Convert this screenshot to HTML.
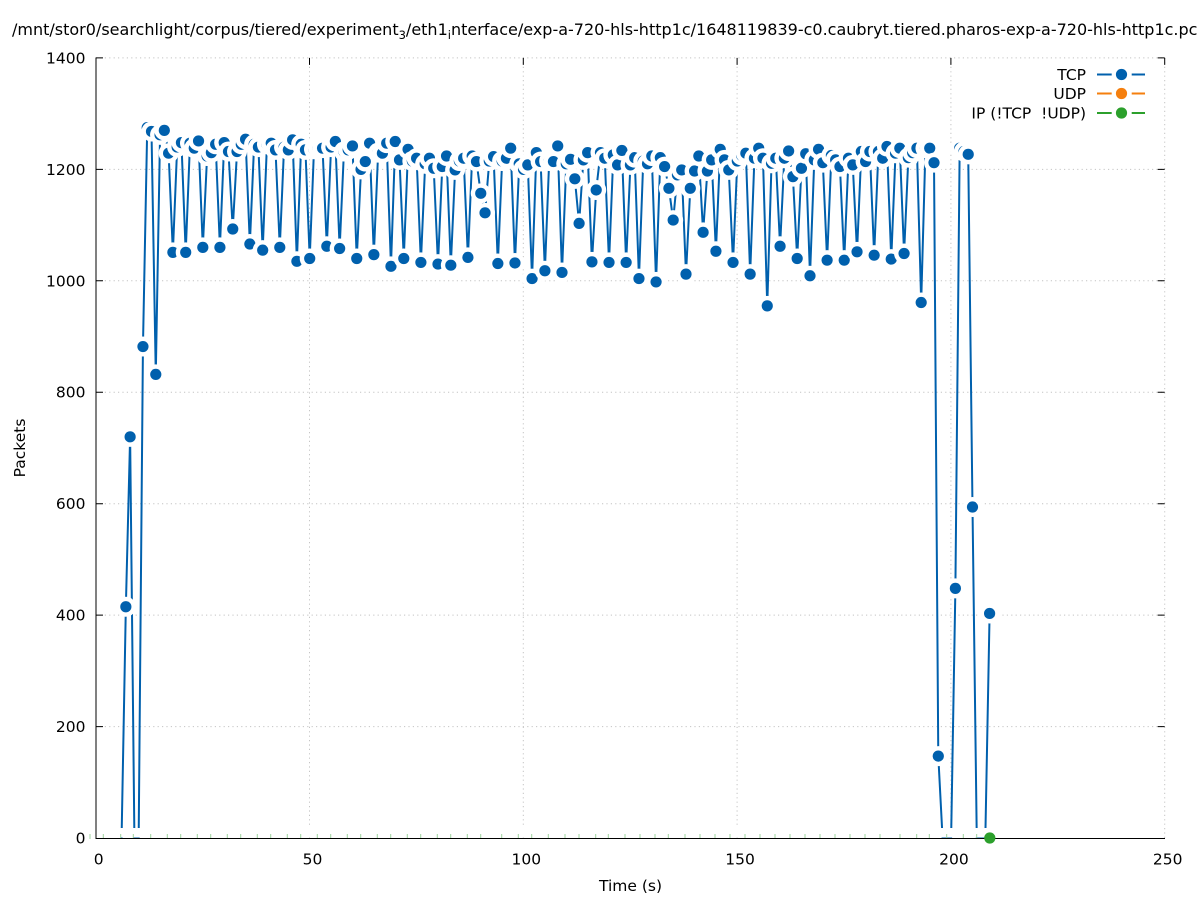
<!DOCTYPE html>
<html>
<head>
<meta charset="utf-8">
<style>
  html, body { margin: 0; padding: 0; background: #fff; }
  svg { display: block; }
  text { font-family: "DejaVu Sans", "Liberation Sans", sans-serif; fill: #000; }
</style>
</head>
<body>
<svg width="1197" height="900" viewBox="0 0 1197 900" xmlns="http://www.w3.org/2000/svg">
  <defs>
    <g id="pt">
      <ellipse rx="2.3386" ry="17.947" fill="#fff"/>
      <ellipse rx="1.3096" ry="10.05" fill="#0060ad"/>
    </g>
  </defs>
  <rect x="0" y="0" width="1197" height="900" fill="#fff"/>

  <!-- grid -->
  <g stroke="#c4c4c4" stroke-width="1" stroke-dasharray="1.2,3.2" fill="none">
    <path d="M309.5 838V58 M523.3 838V58 M737.1 838V58 M950.9 838V58 M1164.7 838V58"/>
    <path d="M96 726.6H1164.7 M96 615.1H1164.7 M96 503.7H1164.7 M96 392.2H1164.7 M96 280.8H1164.7 M96 169.4H1164.7 M96 57.9H1164.7"/>
  </g>

  <!-- TCP series -->
  <g transform="translate(100.19 838) scale(4.276 -0.5572)">
    <polyline fill="none" stroke="#0060ad" stroke-width="2" stroke-linejoin="round" vector-effect="non-scaling-stroke"
      points="5,0 6,415 7,720 8,0 9,0 10,882 11,1275 12,1268 13,832 14,1262 15,1270 16,1229 17,1051 18,1240 19,1248 20,1051 21,1247 22,1238 23,1251 24,1060 25,1224 26,1230 27,1245 28,1060 29,1248 30,1232 31,1093 32,1232 33,1245 34,1254 35,1066 36,1245 37,1240 38,1055 39,1245 40,1247 41,1235 42,1060 43,1240 44,1235 45,1253 46,1035 47,1245 48,1235 49,1040 50,1236 51,1238 52,1238 53,1062 54,1240 55,1250 56,1058 57,1232 58,1235 59,1242 60,1040 61,1200 62,1214 63,1247 64,1047 65,1230 66,1229 67,1247 68,1026 69,1250 70,1217 71,1040 72,1236 73,1215 74,1220 75,1033 76,1210 77,1220 78,1202 79,1030 80,1205 81,1224 82,1028 83,1199 84,1215 85,1220 86,1042 87,1224 88,1214 89,1157 90,1122 91,1215 92,1223 93,1031 94,1215 95,1220 96,1238 97,1032 98,1210 99,1200 100,1208 101,1004 102,1230 103,1214 104,1018 105,1215 106,1214 107,1242 108,1015 109,1210 110,1218 111,1183 112,1103 113,1217 114,1230 115,1034 116,1163 117,1230 118,1220 119,1033 120,1226 121,1208 122,1234 123,1033 124,1208 125,1221 126,1004 127,1215 128,1210 129,1224 130,998 131,1221 132,1205 133,1166 134,1109 135,1190 136,1199 137,1012 138,1166 139,1197 140,1224 141,1087 142,1197 143,1217 144,1053 145,1236 146,1217 147,1199 148,1033 149,1215 150,1225 151,1229 152,1012 153,1220 154,1238 155,1220 156,955 157,1211 158,1220 159,1062 160,1220 161,1233 162,1187 163,1040 164,1202 165,1228 166,1009 167,1217 168,1236 169,1212 170,1037 171,1225 172,1217 173,1205 174,1037 175,1220 176,1208 177,1052 178,1232 179,1214 180,1232 181,1046 182,1232 183,1220 184,1241 185,1039 186,1229 187,1238 188,1049 189,1221 190,1230 191,1238 192,961 193,1238 194,1238 195,1212 196,147 197,0 198,0 199,0 200,448 201,1238 202,1232 203,1227 204,594 205,0 206,0 207,0 208,403"/>
    <use href="#pt" x="6" y="415"/><use href="#pt" x="7" y="720"/>
    <use href="#pt" x="10" y="882"/><use href="#pt" x="11" y="1275"/><use href="#pt" x="12" y="1268"/><use href="#pt" x="13" y="832"/><use href="#pt" x="14" y="1262"/>
    <use href="#pt" x="15" y="1270"/><use href="#pt" x="16" y="1229"/><use href="#pt" x="17" y="1051"/><use href="#pt" x="18" y="1240"/><use href="#pt" x="19" y="1248"/>
    <use href="#pt" x="20" y="1051"/><use href="#pt" x="21" y="1247"/><use href="#pt" x="22" y="1238"/><use href="#pt" x="23" y="1251"/><use href="#pt" x="24" y="1060"/>
    <use href="#pt" x="25" y="1224"/><use href="#pt" x="26" y="1230"/><use href="#pt" x="27" y="1245"/><use href="#pt" x="28" y="1060"/><use href="#pt" x="29" y="1248"/>
    <use href="#pt" x="30" y="1232"/><use href="#pt" x="31" y="1093"/><use href="#pt" x="32" y="1232"/><use href="#pt" x="33" y="1245"/><use href="#pt" x="34" y="1254"/>
    <use href="#pt" x="35" y="1066"/><use href="#pt" x="36" y="1245"/><use href="#pt" x="37" y="1240"/><use href="#pt" x="38" y="1055"/><use href="#pt" x="39" y="1245"/>
    <use href="#pt" x="40" y="1247"/><use href="#pt" x="41" y="1235"/><use href="#pt" x="42" y="1060"/><use href="#pt" x="43" y="1240"/><use href="#pt" x="44" y="1235"/>
    <use href="#pt" x="45" y="1253"/><use href="#pt" x="46" y="1035"/><use href="#pt" x="47" y="1245"/><use href="#pt" x="48" y="1235"/><use href="#pt" x="49" y="1040"/>
    <use href="#pt" x="50" y="1236"/><use href="#pt" x="51" y="1238"/><use href="#pt" x="52" y="1238"/><use href="#pt" x="53" y="1062"/><use href="#pt" x="54" y="1240"/>
    <use href="#pt" x="55" y="1250"/><use href="#pt" x="56" y="1058"/><use href="#pt" x="57" y="1232"/><use href="#pt" x="58" y="1235"/><use href="#pt" x="59" y="1242"/>
    <use href="#pt" x="60" y="1040"/><use href="#pt" x="61" y="1200"/><use href="#pt" x="62" y="1214"/><use href="#pt" x="63" y="1247"/><use href="#pt" x="64" y="1047"/>
    <use href="#pt" x="65" y="1230"/><use href="#pt" x="66" y="1229"/><use href="#pt" x="67" y="1247"/><use href="#pt" x="68" y="1026"/><use href="#pt" x="69" y="1250"/>
    <use href="#pt" x="70" y="1217"/><use href="#pt" x="71" y="1040"/><use href="#pt" x="72" y="1236"/><use href="#pt" x="73" y="1215"/><use href="#pt" x="74" y="1220"/>
    <use href="#pt" x="75" y="1033"/><use href="#pt" x="76" y="1210"/><use href="#pt" x="77" y="1220"/><use href="#pt" x="78" y="1202"/><use href="#pt" x="79" y="1030"/>
    <use href="#pt" x="80" y="1205"/><use href="#pt" x="81" y="1224"/><use href="#pt" x="82" y="1028"/><use href="#pt" x="83" y="1199"/><use href="#pt" x="84" y="1215"/>
    <use href="#pt" x="85" y="1220"/><use href="#pt" x="86" y="1042"/><use href="#pt" x="87" y="1224"/><use href="#pt" x="88" y="1214"/><use href="#pt" x="89" y="1157"/>
    <use href="#pt" x="90" y="1122"/><use href="#pt" x="91" y="1215"/><use href="#pt" x="92" y="1223"/><use href="#pt" x="93" y="1031"/><use href="#pt" x="94" y="1215"/>
    <use href="#pt" x="95" y="1220"/><use href="#pt" x="96" y="1238"/><use href="#pt" x="97" y="1032"/><use href="#pt" x="98" y="1210"/><use href="#pt" x="99" y="1200"/>
    <use href="#pt" x="100" y="1208"/><use href="#pt" x="101" y="1004"/><use href="#pt" x="102" y="1230"/><use href="#pt" x="103" y="1214"/><use href="#pt" x="104" y="1018"/>
    <use href="#pt" x="105" y="1215"/><use href="#pt" x="106" y="1214"/><use href="#pt" x="107" y="1242"/><use href="#pt" x="108" y="1015"/><use href="#pt" x="109" y="1210"/>
    <use href="#pt" x="110" y="1218"/><use href="#pt" x="111" y="1183"/><use href="#pt" x="112" y="1103"/><use href="#pt" x="113" y="1217"/><use href="#pt" x="114" y="1230"/>
    <use href="#pt" x="115" y="1034"/><use href="#pt" x="116" y="1163"/><use href="#pt" x="117" y="1230"/><use href="#pt" x="118" y="1220"/><use href="#pt" x="119" y="1033"/>
    <use href="#pt" x="120" y="1226"/><use href="#pt" x="121" y="1208"/><use href="#pt" x="122" y="1234"/><use href="#pt" x="123" y="1033"/><use href="#pt" x="124" y="1208"/>
    <use href="#pt" x="125" y="1221"/><use href="#pt" x="126" y="1004"/><use href="#pt" x="127" y="1215"/><use href="#pt" x="128" y="1210"/><use href="#pt" x="129" y="1224"/>
    <use href="#pt" x="130" y="998"/><use href="#pt" x="131" y="1221"/><use href="#pt" x="132" y="1205"/><use href="#pt" x="133" y="1166"/><use href="#pt" x="134" y="1109"/>
    <use href="#pt" x="135" y="1190"/><use href="#pt" x="136" y="1199"/><use href="#pt" x="137" y="1012"/><use href="#pt" x="138" y="1166"/><use href="#pt" x="139" y="1197"/>
    <use href="#pt" x="140" y="1224"/><use href="#pt" x="141" y="1087"/><use href="#pt" x="142" y="1197"/><use href="#pt" x="143" y="1217"/><use href="#pt" x="144" y="1053"/>
    <use href="#pt" x="145" y="1236"/><use href="#pt" x="146" y="1217"/><use href="#pt" x="147" y="1199"/><use href="#pt" x="148" y="1033"/><use href="#pt" x="149" y="1215"/>
    <use href="#pt" x="150" y="1225"/><use href="#pt" x="151" y="1229"/><use href="#pt" x="152" y="1012"/><use href="#pt" x="153" y="1220"/><use href="#pt" x="154" y="1238"/>
    <use href="#pt" x="155" y="1220"/><use href="#pt" x="156" y="955"/><use href="#pt" x="157" y="1211"/><use href="#pt" x="158" y="1220"/><use href="#pt" x="159" y="1062"/>
    <use href="#pt" x="160" y="1220"/><use href="#pt" x="161" y="1233"/><use href="#pt" x="162" y="1187"/><use href="#pt" x="163" y="1040"/><use href="#pt" x="164" y="1202"/>
    <use href="#pt" x="165" y="1228"/><use href="#pt" x="166" y="1009"/><use href="#pt" x="167" y="1217"/><use href="#pt" x="168" y="1236"/><use href="#pt" x="169" y="1212"/>
    <use href="#pt" x="170" y="1037"/><use href="#pt" x="171" y="1225"/><use href="#pt" x="172" y="1217"/><use href="#pt" x="173" y="1205"/><use href="#pt" x="174" y="1037"/>
    <use href="#pt" x="175" y="1220"/><use href="#pt" x="176" y="1208"/><use href="#pt" x="177" y="1052"/><use href="#pt" x="178" y="1232"/><use href="#pt" x="179" y="1214"/>
    <use href="#pt" x="180" y="1232"/><use href="#pt" x="181" y="1046"/><use href="#pt" x="182" y="1232"/><use href="#pt" x="183" y="1220"/><use href="#pt" x="184" y="1241"/>
    <use href="#pt" x="185" y="1039"/><use href="#pt" x="186" y="1229"/><use href="#pt" x="187" y="1238"/><use href="#pt" x="188" y="1049"/><use href="#pt" x="189" y="1221"/>
    <use href="#pt" x="190" y="1230"/><use href="#pt" x="191" y="1238"/><use href="#pt" x="192" y="961"/><use href="#pt" x="193" y="1238"/><use href="#pt" x="194" y="1238"/>
    <use href="#pt" x="195" y="1212"/><use href="#pt" x="196" y="147"/>
    <use href="#pt" x="200" y="448"/><use href="#pt" x="201" y="1238"/><use href="#pt" x="202" y="1232"/><use href="#pt" x="203" y="1227"/><use href="#pt" x="204" y="594"/>
    <use href="#pt" x="208" y="403"/>
  </g>

  <!-- IP series background gaps along zero -->
  <rect x="97" y="828" width="900" height="9.5" fill="#fff"/>
  <!-- faint green fragments of IP line -->
  <path stroke="#9fd49f" stroke-width="1" fill="none"
    d="M90 834v5 M103.3 834v5 M120.7 834v5 M133.3 834v5 M150.7 834v5 M167.3 834v5 M180.7 834v5 M197.3 834v5 M210.7 834v5 M227.3 834v5 M240.7 834v5 M257.3 834v5 M270.7 834v5 M287.3 834v5 M300.7 834v5 M317.3 834v5 M330.7 834v5 M347.3 834v5 M360.7 834v5 M377.3 834v5 M390.7 834v5 M407.3 834v5 M420.7 834v5 M437.3 834v5 M450.7 834v5 M467.3 834v5 M480.7 834v5 M501.7 834v5 M518.3 834v5 M531.7 834v5 M548.3 834v5 M565 834v5 M579 834v5 M595.7 834v5 M608.3 834v5 M625 834v5 M640 834v5 M655 834v5 M668.3 834v5 M685 834v5 M700 834v5 M715 834v5 M730 834v5 M745 834v5 M760 834v5 M775 834v5 M790 834v5 M805 834v5 M820 834v5 M835 834v5 M850 834v5 M865 834v5 M880 834v5 M900 834v5 M916.7 834v5 M929.3 834v5 M946.7 834v5 M963.3 834v5 M976.7 834v5"/>

  <!-- border and ticks -->
  <g stroke="#000" stroke-width="1" fill="none">
    <path d="M96 57.5V838.5H1165"/>
    <path d="M96 726.6h7 M96 615.1h7 M96 503.7h7 M96 392.2h7 M96 280.8h7 M96 169.4h7 M96 57.9h7"/>
    <path d="M1164.7 726.6h-7 M1164.7 615.1h-7 M1164.7 503.7h-7 M1164.7 392.2h-7 M1164.7 280.8h-7 M1164.7 169.4h-7 M1164.7 57.9h-7"/>
    <path d="M309.5 57.9v7 M523.3 57.9v7 M737.1 57.9v7 M950.9 57.9v7 M1164.7 57.9v7"/>
  </g>

  <!-- final IP point -->
  <circle cx="989.8" cy="838" r="5.6" fill="#2ca02c"/>

  <!-- title -->
  <text x="12" y="35" font-size="16">/mnt/stor0/searchlight/corpus/tiered/experiment<tspan font-size="11.5" dy="4">3</tspan><tspan dy="-4">/eth1</tspan><tspan font-size="11.5" dy="4">i</tspan><tspan dy="-4">nterface/exp-a-720-hls-http1c/1648119839-c0.caubryt.tiered.pharos-exp-a-720-hls-http1c.pcap</tspan></text>

  <!-- y tick labels -->
  <g font-size="15.5" text-anchor="end">
    <text x="85.5" y="843.5">0</text>
    <text x="85.5" y="732.1">200</text>
    <text x="85.5" y="620.6">400</text>
    <text x="85.5" y="509.2">600</text>
    <text x="85.5" y="397.7">800</text>
    <text x="85.5" y="286.3">1000</text>
    <text x="85.5" y="174.9">1200</text>
    <text x="85.5" y="63.4">1400</text>
  </g>

  <!-- x tick labels -->
  <g font-size="15.5" text-anchor="middle">
    <text x="98.7" y="864.5">0</text>
    <text x="312.5" y="864.5">50</text>
    <text x="526.3" y="864.5">100</text>
    <text x="740.1" y="864.5">150</text>
    <text x="953.9" y="864.5">200</text>
    <text x="1167.7" y="864.5">250</text>
  </g>

  <!-- axis labels -->
  <text x="630.5" y="891" font-size="15.5" text-anchor="middle">Time (s)</text>
  <text transform="translate(25 448) rotate(-90)" font-size="15.5" text-anchor="middle">Packets</text>

  <!-- legend -->
  <g font-size="15.5" text-anchor="end">
    <text x="1086" y="80">TCP</text>
    <text x="1086" y="99">UDP</text>
    <text x="1086" y="118.5" style="white-space:pre">IP (!TCP  !UDP)</text>
  </g>
  <g stroke-width="2" fill="none">
    <path stroke="#0060ad" d="M1097 74.5h14.7 M1131.7 74.5h13.3"/>
    <path stroke="#f57f0e" d="M1097 93.5h14.7 M1131.7 93.5h13.3"/>
    <path stroke="#2ca02c" d="M1097 113h14.7 M1131.7 113h13.3"/>
  </g>
  <circle cx="1121.5" cy="74.5" r="5.6" fill="#0060ad"/>
  <circle cx="1121.5" cy="93.5" r="5.6" fill="#f57f0e"/>
  <circle cx="1121.5" cy="113" r="5.6" fill="#2ca02c"/>
</svg>
</body>
</html>
